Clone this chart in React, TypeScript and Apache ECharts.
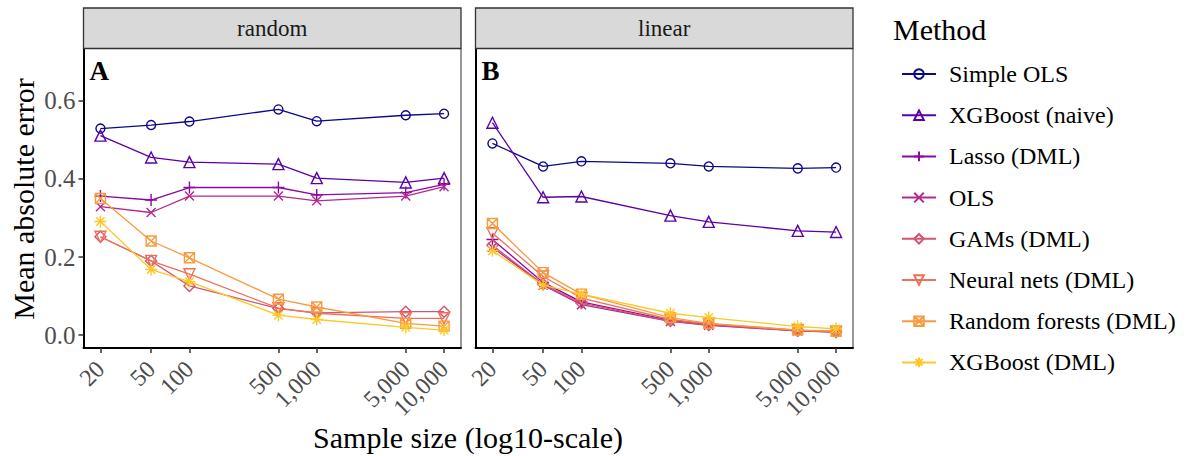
import React, { useEffect, useRef } from "react";
import * as echarts from "echarts";

const sampleSizes = [20, 50, 100, 500, 1000, 5000, 10000];
const methods = [
  "Simple OLS",
  "XGBoost (naive)",
  "Lasso (DML)",
  "OLS",
  "GAMs (DML)",
  "Neural nets (DML)",
  "Random forests (DML)",
  "XGBoost (DML)",
];
const panelNames = ["random", "linear"];
const panelTags = ["A", "B"];
const yTickValues = [0, 0.2, 0.4, 0.6];

// panel "random"
const randomSimpleOLS = [0.529, 0.538, 0.547, 0.578, 0.548, 0.563, 0.567];
const randomXGBNaive = [0.511, 0.455, 0.443, 0.438, 0.402, 0.391, 0.402];
const randomLasso = [0.356, 0.346, 0.378, 0.378, 0.359, 0.365, 0.386];
const randomOLS = [0.329, 0.314, 0.356, 0.356, 0.344, 0.356, 0.38];
const randomGAMs = [0.252, 0.19, 0.126, 0.068, 0.057, 0.06, 0.06];
const randomNN = [0.252, 0.19, 0.156, 0.069, 0.056, 0.043, 0.043];
const randomRF = [0.35, 0.241, 0.198, 0.092, 0.072, 0.03, 0.023];
const randomXGBDML = [0.291, 0.168, 0.137, 0.051, 0.04, 0.02, 0.013];

// panel "linear"
const linearSimpleOLS = [0.491, 0.432, 0.445, 0.44, 0.432, 0.427, 0.429];
const linearXGBNaive = [0.544, 0.353, 0.355, 0.306, 0.29, 0.267, 0.264];
const linearLasso = [0.245, 0.135, 0.085, 0.038, 0.027, 0.012, 0.009];
const linearOLS = [0.225, 0.128, 0.078, 0.035, 0.025, 0.011, 0.008];
const linearGAMs = [0.23, 0.13, 0.082, 0.036, 0.026, 0.011, 0.008];
const linearNN = [0.261, 0.15, 0.095, 0.04, 0.029, 0.013, 0.009];
const linearRF = [0.286, 0.16, 0.105, 0.045, 0.03, 0.013, 0.01];
const linearXGBDML = [0.216, 0.128, 0.105, 0.056, 0.045, 0.022, 0.016];

const randomValues = [randomSimpleOLS, randomXGBNaive, randomLasso, randomOLS, randomGAMs, randomNN, randomRF, randomXGBDML];
const linearValues = [linearSimpleOLS, linearXGBNaive, linearLasso, linearOLS, linearGAMs, linearNN, linearRF, linearXGBDML];

const colors = ["#0D0887", "#5C01A6", "#8B0AA5", "#B02A90", "#D5536F", "#EC7158", "#FA9A3E", "#FDC827"];
const symbols = [
  "circle",
  "path://M5 0L10 8.66L0 8.66Z",
  "path://M5 0L5 10M0 5L10 5",
  "path://M0 0L10 10M10 0L0 10",
  "path://M5 0L10 5L5 10L0 5Z",
  "path://M0 0L10 0L5 8.66Z",
  "path://M0 0L10 0L10 10L0 10ZM0 0L10 10M10 0L0 10",
  "path://M5 0L5 10M0 5L10 5M1.5 1.5L8.5 8.5M8.5 1.5L1.5 8.5",
];
const symbolSizes = [9, 11, 12, 9, 11, 11, 10, 12];

const FONT = "'Liberation Serif', 'DejaVu Serif', serif";

export default function App() {
  const ref = useRef<HTMLDivElement>(null);
  useEffect(() => {
    if (!ref.current) return;
    const chart = echarts.init(ref.current, undefined, { renderer: "svg" });
    const logSizes = sampleSizes.map((n) => Math.log10(n));
    const xMin = 1.168;
    const xMax = 4.133;
    const gridLefts = [83.5, 475.5];
    const gridWidth = 377.5;
    const gridTop = 48.5;
    const gridHeight = 299.5;

    const grids = gridLefts.map((l) => ({
      left: l,
      top: gridTop,
      width: gridWidth,
      height: gridHeight,
      show: true,
      borderColor: "#333",
      borderWidth: 1,
      backgroundColor: "#fff",
    }));

    const xAxes = [0, 1].map((i) => ({
      type: "value",
      gridIndex: i,
      min: xMin,
      max: xMax,
      axisLine: { show: true, onZero: false, lineStyle: { color: "#000", width: 2 } },
      axisTick: { show: true, customValues: logSizes, length: 5, lineStyle: { color: "#333", width: 1.5 } },
      axisLabel: {
        customValues: logSizes,
        rotate: 45,
        margin: 17,
        color: "#4D4D4D",
        fontSize: 24,
        fontFamily: FONT,
        formatter: (v: number) => Math.round(Math.pow(10, v)).toLocaleString("en-US"),
      },
      splitLine: { show: false },
    }));

    const yAxes = [0, 1].map((i) => ({
      type: "value",
      gridIndex: i,
      min: -0.033,
      max: 0.734,
      axisLine: { show: true, onZero: false, lineStyle: { color: "#000", width: 2 } },
      axisTick: { show: i === 0, customValues: yTickValues, length: 5, lineStyle: { color: "#333", width: 1.5 } },
      axisLabel: {
        show: i === 0,
        customValues: yTickValues,
        margin: 8,
        color: "#4D4D4D",
        fontSize: 25,
        fontFamily: FONT,
        formatter: (v: number) => v.toFixed(1),
      },
      splitLine: { show: false },
    }));

    const series: any[] = [];
    [randomValues, linearValues].forEach((panel, p) => {
      panel.forEach((vals, m) => {
        series.push({
          type: "line",
          name: methods[m],
          xAxisIndex: p,
          yAxisIndex: p,
          data: vals.map((v, k) => [logSizes[k], v]),
          symbol: symbols[m],
          symbolSize: symbolSizes[m],
          showAllSymbol: true,
          lineStyle: { color: colors[m], width: 1.3 },
          itemStyle: { color: "rgba(0,0,0,0)", borderColor: colors[m], borderWidth: 1.4 },
          emphasis: { disabled: true },
          z: 2 + m,
        });
      });
    });

    const graphics: any[] = [];
    gridLefts.forEach((l, i) => {
      graphics.push({
        type: "rect",
        shape: { x: l, y: 8, width: gridWidth, height: gridTop - 8 },
        style: { fill: "#D9D9D9", stroke: "#333", lineWidth: 1.3 },
        z: 10,
      });
      graphics.push({
        type: "text",
        style: {
          text: panelNames[i],
          x: l + gridWidth / 2,
          y: (8 + gridTop) / 2,
          align: "center",
          verticalAlign: "middle",
          fontSize: 23,
          fontFamily: FONT,
          fill: "#1A1A1A",
        },
        z: 11,
      });
      graphics.push({
        type: "text",
        style: {
          text: panelTags[i],
          x: l + 6,
          y: 71,
          align: "left",
          verticalAlign: "middle",
          fontSize: 27,
          fontWeight: "bold",
          fontFamily: FONT,
          fill: "#000",
        },
        z: 11,
      });
    });
    graphics.push({
      type: "text",
      style: {
        text: "Mean absolute error",
        x: 0,
        y: 0,
        align: "center",
        verticalAlign: "middle",
        fontSize: 30,
        fontFamily: FONT,
        fill: "#000",
      },
      x: 23,
      y: 199,
      rotation: Math.PI / 2,
    });
    graphics.push({
      type: "text",
      style: {
        text: "Sample size (log10-scale)",
        x: 468,
        y: 437,
        align: "center",
        verticalAlign: "middle",
        fontSize: 30,
        fontFamily: FONT,
        fill: "#000",
      },
    });
    graphics.push({
      type: "text",
      style: {
        text: "Method",
        x: 893,
        y: 29,
        align: "left",
        verticalAlign: "middle",
        fontSize: 30,
        fontFamily: FONT,
        fill: "#000",
      },
    });

    chart.setOption({
      animation: false,
      backgroundColor: "#fff",
      grid: grids,
      xAxis: xAxes,
      yAxis: yAxes,
      legend: {
        orient: "vertical",
        left: 896,
        top: 57,
        itemWidth: 34,
        itemHeight: 12,
        itemGap: 17.2,
        selectedMode: false,
        data: methods,
        textStyle: { fontFamily: FONT, fontSize: 24, color: "#000", lineHeight: 24, padding: [0, 0, 0, 8] },
      },
      series,
      graphic: graphics,
    });
    return () => chart.dispose();
  }, []);
  return <div ref={ref} style={{ position: "fixed", left: 0, top: 0, width: 1188, height: 456, background: "#fff" }} />;
}
